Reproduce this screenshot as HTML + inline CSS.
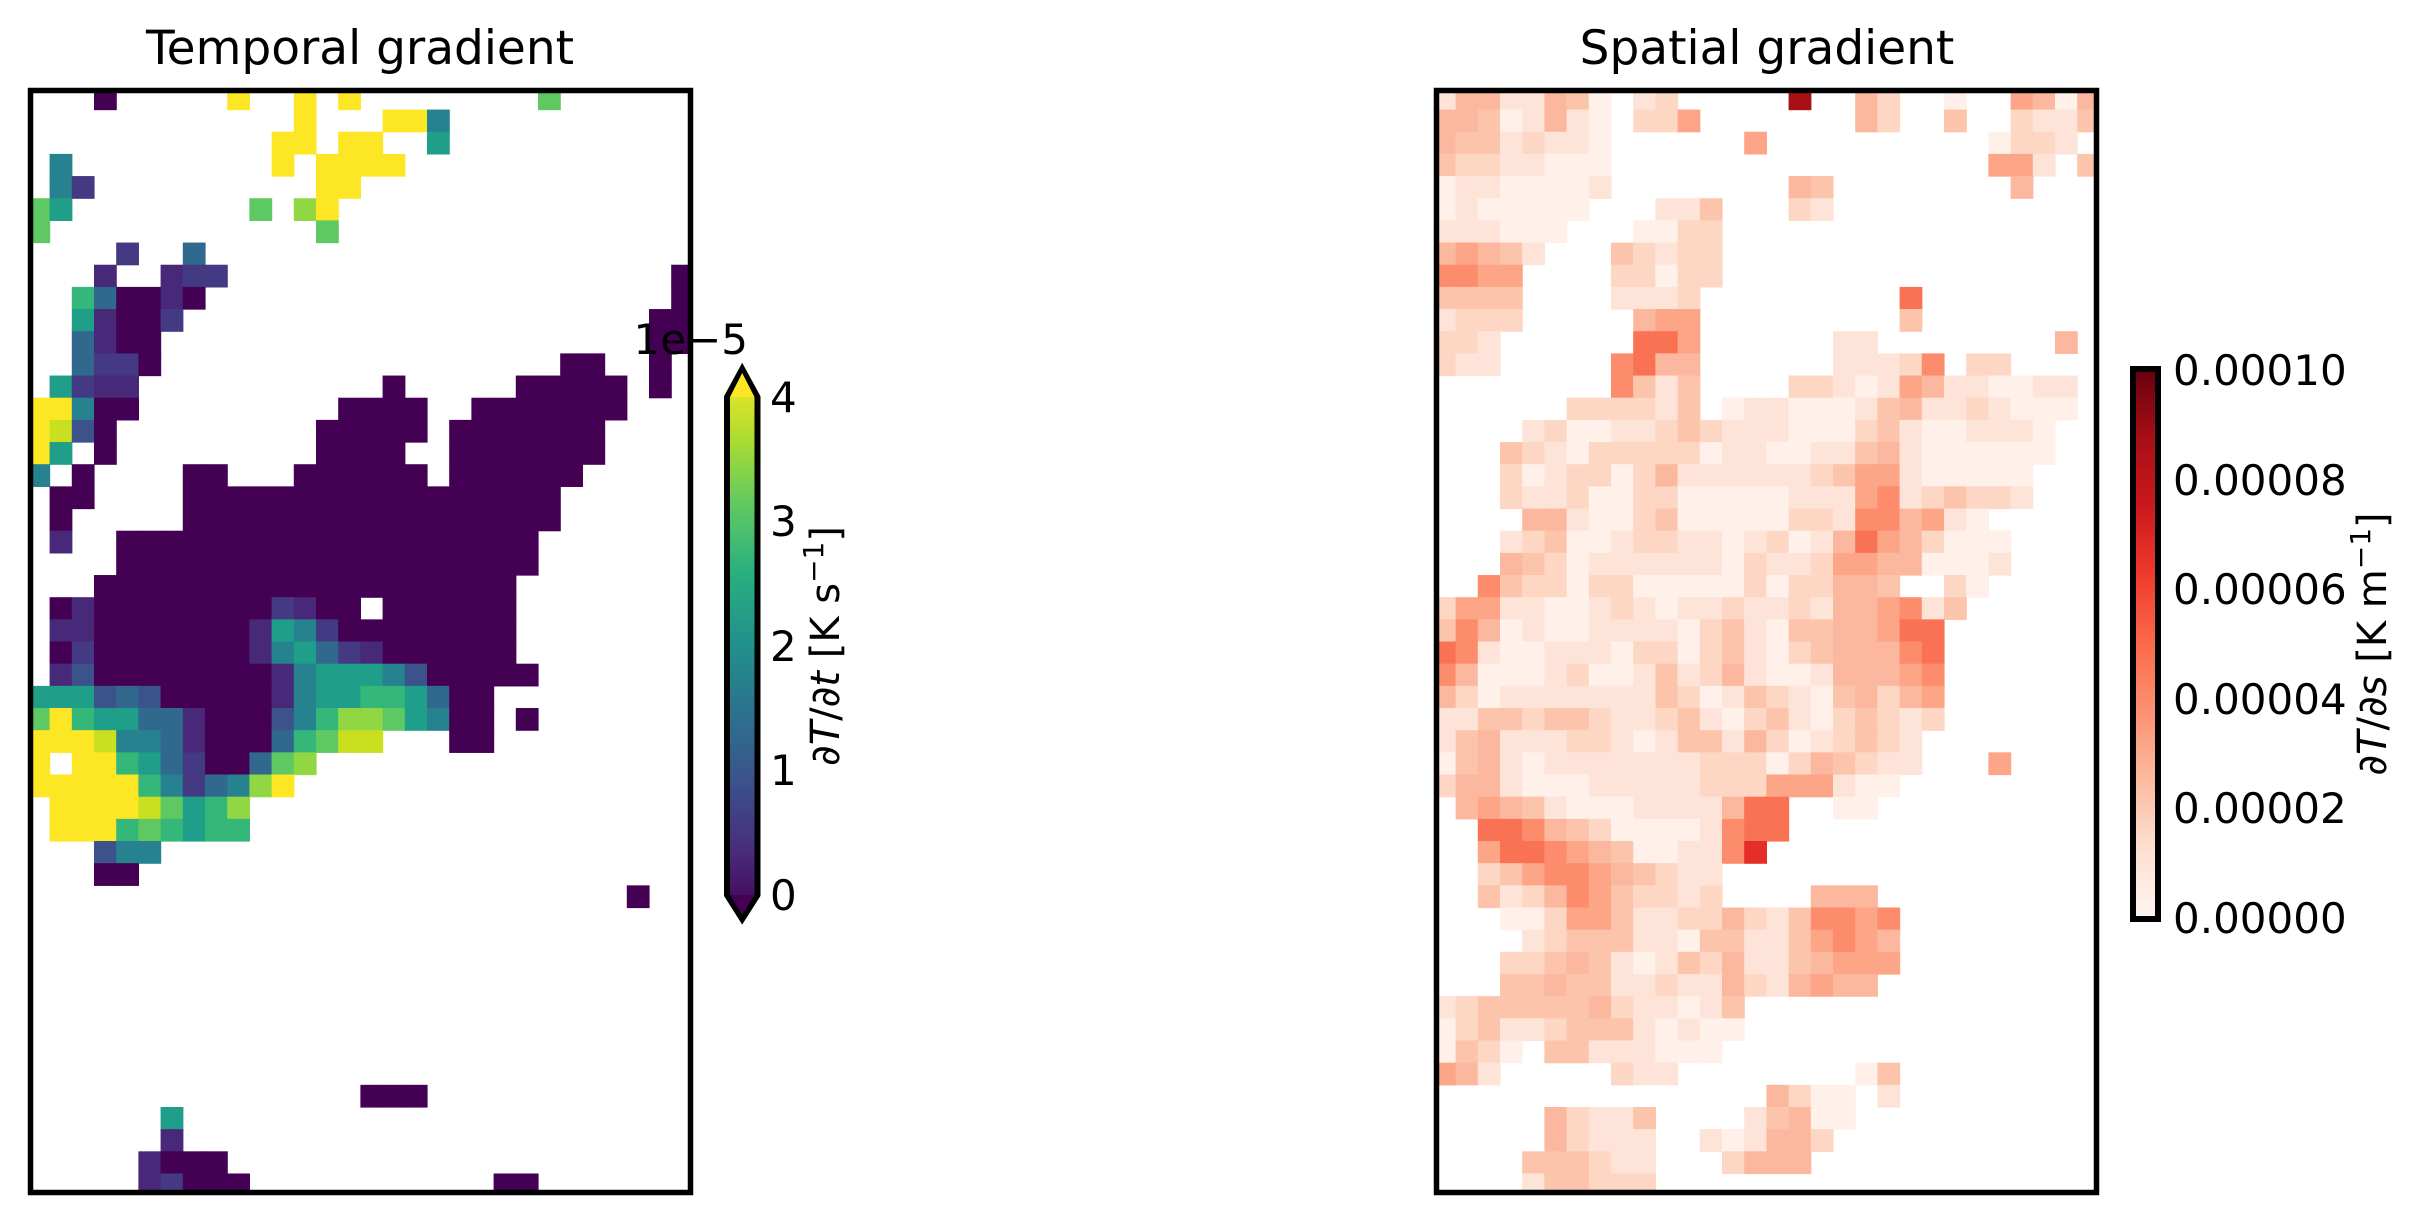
<!DOCTYPE html>
<html><head><meta charset="utf-8">
<style>
html,body{margin:0;padding:0;background:#fff;}
svg{display:block;}
text{font-family:"DejaVu Sans","Liberation Sans",sans-serif;fill:#000;}
</style></head>
<body>
<svg id="s" xmlns="http://www.w3.org/2000/svg" width="2427" height="1217" viewBox="0 0 2427 1217">
<defs>
<linearGradient id="vir" x1="0" y1="1" x2="0" y2="0">
<stop offset="0" stop-color="#440154"/><stop offset="0.125" stop-color="#472d7b"/><stop offset="0.25" stop-color="#3b528b"/><stop offset="0.375" stop-color="#2c728e"/><stop offset="0.5" stop-color="#21918c"/><stop offset="0.625" stop-color="#28ae80"/><stop offset="0.75" stop-color="#5ec962"/><stop offset="0.875" stop-color="#addc30"/><stop offset="1" stop-color="#fde725"/>
</linearGradient>
<linearGradient id="reds" x1="0" y1="1" x2="0" y2="0">
<stop offset="0" stop-color="#fff5f0"/><stop offset="0.125" stop-color="#fee0d2"/><stop offset="0.25" stop-color="#fcbba1"/><stop offset="0.375" stop-color="#fc9272"/><stop offset="0.5" stop-color="#fb6a4a"/><stop offset="0.625" stop-color="#ef3b2c"/><stop offset="0.75" stop-color="#cb181d"/><stop offset="0.875" stop-color="#a50f15"/><stop offset="1" stop-color="#67000d"/>
</linearGradient>
<clipPath id="cl"><rect x="30.5" y="90.5" width="660" height="1102"/></clipPath>
<clipPath id="cr"><rect x="1436.5" y="90.5" width="660" height="1102"/></clipPath>
</defs>
<g id="gl" clip-path="url(#cl)"></g>
<g id="gr" clip-path="url(#cr)"></g>
<rect x="30.5" y="90.5" width="660" height="1102" fill="none" stroke="#000" stroke-width="5.5"/>
<rect x="1436.5" y="90.5" width="660" height="1102" fill="none" stroke="#000" stroke-width="5.5"/>
<text x="360" y="64" font-size="47" text-anchor="middle">Temporal gradient</text>
<text x="1767" y="64" font-size="47" text-anchor="middle">Spatial gradient</text>

<polygon points="727,397 742.2,369 757.5,397 757.5,895 742.2,919 727,895" fill="url(#vir)" stroke="#000" stroke-width="6" stroke-linejoin="miter"/>
<polygon points="730,397 742.2,373 754.5,397" fill="#fde725"/>
<polygon points="730,895 742.2,915 754.5,895" fill="#440154"/>
<text x="770" y="412" font-size="42">4</text>
<text x="770" y="536" font-size="42">3</text>
<text x="770" y="661" font-size="42">2</text>
<text x="770" y="785" font-size="42">1</text>
<text x="770" y="910" font-size="42">0</text>
<text x="748" y="354" font-size="42" text-anchor="end">1e−5</text>
<text transform="translate(839,646) rotate(-90)" font-size="40" text-anchor="middle"><tspan>∂</tspan><tspan font-style="italic">T</tspan><tspan>/∂</tspan><tspan font-style="italic">t</tspan><tspan> [K s</tspan><tspan font-size="28" dy="-16">−1</tspan><tspan dy="16">]</tspan></text>

<rect x="2133" y="369" width="25" height="550" fill="url(#reds)" stroke="#000" stroke-width="6"/>
<text x="2173" y="385" font-size="42">0.00010</text>
<text x="2173" y="495" font-size="42">0.00008</text>
<text x="2173" y="604" font-size="42">0.00006</text>
<text x="2173" y="714" font-size="42">0.00004</text>
<text x="2173" y="823" font-size="42">0.00002</text>
<text x="2173" y="933" font-size="42">0.00000</text>
<text transform="translate(2386,644) rotate(-90)" font-size="40" text-anchor="middle"><tspan>∂</tspan><tspan font-style="italic">T</tspan><tspan>/∂</tspan><tspan font-style="italic">s</tspan><tspan> [K m</tspan><tspan font-size="28" dy="-16">−1</tspan><tspan dy="16">]</tspan></text>
</svg>
<script>
(function(){
var NS="http://www.w3.org/2000/svg";
var CW=22.2, CH=22.165;
function cell(g,x0,y0,col,row,color){
  var r=document.createElementNS(NS,"rect");
  r.setAttribute("x",(x0+(col-0.14)*CW).toFixed(2));
  r.setAttribute("y",(y0+(row-0.14)*CH).toFixed(2));
  r.setAttribute("width",(CW+0.6).toFixed(2));
  r.setAttribute("height",(CH+0.6).toFixed(2));
  r.setAttribute("fill",color);
  g.appendChild(r);
}
var vc={D:"#440154",m:"#482878",p:"#443983",b:"#3b528b",B:"#31688e",T:"#26828e",t:"#1f9e89",G:"#35b779",g:"#5ec962",L:"#90d743",l:"#c8e020",Y:"#fde725"};
var L={
0:"3D 9Y 12Y 14Y 23g",1:"12Y 16-17Y 18T",2:"11-12Y 14-15Y 18t",3:"1T 11Y 13-16Y",4:"1T 2p 13-14Y",
5:"0g 1t 10g 12L 13Y",6:"0g 13g",7:"4p 7B",8:"3m 6m 7p 8p 29D",9:"2G 3B 4-5D 6m 7D 29D",
10:"2t 3m 4-5D 6p 28-29D",11:"2B 3m 4-5D 28-29D",12:"2B 3p 4p 5D 24-25D 28D",13:"1t 2p 3-4m 16D 22-26D 28D",
14:"0-1Y 2T 3-4D 14-17D 20-26D",15:"0Y 1l 2b 3D 13-17D 19-25D",16:"0Y 1t 3D 13-16D 19-25D",
17:"0T 2D 7-8D 12-17D 19-24D",18:"1-2D 7-23D",19:"1D 7-23D",20:"1m 4-22D",21:"4-22D",22:"3-21D",
23:"1D 2m 3-10D 11p 12m 13-14D 16-21D",24:"1-2m 3-9D 10m 11t 12T 13p 14-21D",
25:"1D 2p 3-9D 10m 11T 12t 13B 14p 15m 16-21D",26:"1m 2b 3-10D 11m 12T 13-15t 16T 17b 18-22D",
27:"0-2t 3b 4B 5b 6-10D 11m 12T 13-14t 15-16G 17t 18B 19-20D",
28:"0g 1Y 2G 3t 4t 5-6B 7m 8-10D 11b 12T 13G 14-15L 16g 17t 18T 19-20D 22D",
29:"0-2Y 3l 4-5T 6B 7m 8-10D 11B 12G 13g 14-15l 19-20D",
30:"0Y 2-3Y 4G 5t 6B 7p 8-9D 10B 11g 12L",31:"0-4Y 5G 6T 7p 8B 9T 10L 11Y",
32:"1-4Y 5l 6g 7t 8G 9L",33:"1-3Y 4G 5g 6G 7t 8G 9G",34:"3b 4T 5T",35:"3-4D",36:"27D",
45:"15-17D",46:"6t",47:"6m",48:"5m 6-8D",49:"5m 6p 7-9D 21-22D"};
var gl=document.getElementById("gl");
for(var r in L){
  L[r].split(" ").forEach(function(tok){
    var c=tok.slice(-1), rng=tok.slice(0,-1).split("-");
    var a=parseInt(rng[0]), b=rng.length>1?parseInt(rng[1]):a;
    for(var k=a;k<=b;k++) cell(gl,30.5,90.5,k,parseInt(r),vc[c]);
  });
}
var rc={"1":"#fff0e9","2":"#fee4d8","3":"#fdd6c4","4":"#fcc5ab","5":"#fcb89e","6":"#fca587","7":"#fc8c6c","8":"#fa7254","9":"#e32f27","X":"#a91016"};
var R=[
"25522541.23.....X..53..1..6515",
"55412521.336.......53..4..3224",
"54423221......6..........1332.",
"43322111.................662.4",
"12211112........54........5...",
"1211111...224...32............",
"222111...1133.................",
"56542...43233.................",
"7766....33133.................",
"4444....2223.........8........",
"2333.....566.........4........",
"332......886......22........5.",
"322.....7855......22237.33....",
"........7424....3321265221122.",
"......333324.1221112452232111.",
"....231122343222111342112221..",
"...4321333331221122452111111..",
"...312331352222223466211111...",
"...322311331111122267234332...",
"....552113411111332775621.....",
"...23411233221231258653111....",
"...54312222221322366551112....",
"..7433133111113133554..31.....",
"366221123212232232556724......",
"47512112222134214455688.......",
"87211222133134213455578.......",
"75111231124235211255567.......",
"53122222224312432145356.......",
"22443443223421342134323.......",
"2452223321244253123432........",
"1452122222223331354322...6....",
"355211122222333666211.........",
".565421112222588..11..........",
"..88754311112788..............",
"..6887654112279...............",
"..34677654322.................",
"..42357643323....555..........",
"...113664223353247767.........",
"....23444221442246765.........",
"...334542124352245666.........",
"...44544223225325655..........",
"23444445322124................",
"13422344421211................",
"1431.44222111.................",
"652.....322........14.........",
"...............5311.2.........",
".....53224....24511...........",
".....53222..212553............",
"....444322...3555.............",
"....244333...................."];
var gr=document.getElementById("gr");
R.forEach(function(s,row){
  for(var k=0;k<s.length;k++){var ch=s[k]; if(rc[ch]) cell(gr,1436.5,90.5,k,row,rc[ch]);}
});
})();
</script>
</body></html>
